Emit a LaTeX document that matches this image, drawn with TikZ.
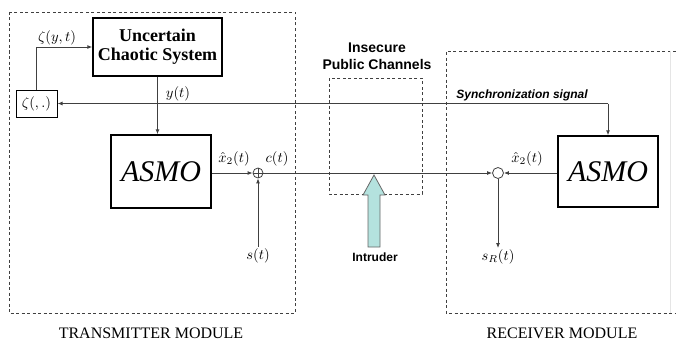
\documentclass[tikz,border=0pt]{standalone}
\usepackage{graphicx}
\usepackage{fontspec}
\setmainfont{Liberation Serif}
\newfontfamily\chansf{Liberation Sans}
\usetikzlibrary{arrows.meta}
\definecolor{intrudercol}{HTML}{B4E2DE}
\definecolor{wirecol}{HTML}{404040}
\newcommand{\siglbl}[1]{\scalebox{1.45}{$#1$}}
\tikzset{
    block/.style={draw, line width=1.4pt, minimum width=#1, inner sep=2pt},
    block/.default=100pt,
    module/.style={dashed, line width=0.9pt, dash pattern=on 3pt off 2.5pt, wirecol},
    wire/.style={wirecol, line width=0.9pt},
    sig/.style={inner sep=1.5pt},
    sumnode/.style={circle, draw=wirecol, line width=0.8pt, minimum size=10pt, inner sep=0pt}
}
\begin{document}
\begin{tikzpicture}[x=1pt,y=-1pt,>={Latex[length=5pt,width=4pt]}]
    \useasboundingbox (0,0) rectangle (676,345);
    % modules
    \draw[module] (9,12) rectangle (295,313);
    \draw[module] (676,51) -- (446,51) -- (446,313) -- (676,313);
    \draw[gray!20, line width=0.6pt] (670,51) -- (670,313);
    \draw[module] (329,78) rectangle (422,194);
    % blocks
    \node[block=129pt, minimum height=58pt, align=center, font=\fontsize{18}{19}\selectfont\bfseries]
        (ucs) at (157.5,47) {Uncertain\\Chaotic System};
    \node[block=41pt, minimum height=27pt, line width=1pt, sig] (zeta) at (36.5,103.5) {\siglbl{\zeta(,.)}};
    \node[block=100pt, minimum height=73pt, font=\fontsize{30}{30}\selectfont\itshape] (asmoT) at (161,171.5) {ASMO};
    \node[block=100pt, minimum height=71pt, font=\fontsize{30}{30}\selectfont\itshape] (asmoR) at (608,171.5) {ASMO};
    \node[sumnode] (sumT) at (258,173) {};
    \draw[wirecol, line width=0.8pt] (sumT.north) -- (sumT.south) (sumT.west) -- (sumT.east);
    \node[sumnode, minimum size=11pt] (sumR) at (498,173) {};
    % signals
    \node[sig] (sT) at (258,256) {\siglbl{s(t)}};
    \node[sig] (sR) at (498,257) {\siglbl{s_R(t)}};
    \coordinate (sync) at (asmoR.north |- zeta.east);
    \coordinate (zup) at (zeta.north |- ucs.west);
    \draw[wire,->] (zeta.north) -- (zup) -- (ucs.west);
    \draw[wire,->] (ucs.south) -- (ucs.south |- asmoT.north);
    \draw[wire,->] (sync) -- (zeta.east);
    \draw[wire,->] (sync) -- (asmoR.north);
    \draw[wire,->] (asmoT.east |- sumT.west) -- (sumT.west);
    \draw[wire,->] (sT.north) -- (sumT.south);
    \draw[wire,->] (sumT.east) -- (sumR.west);
    \draw[wire,->] (asmoR.west |- sumR.east) -- (sumR.east);
    \draw[wire,->] (sumR.south) -- (sR.north);
    % labels
    \node[sig] (lzy) at (57,38) {\siglbl{\zeta(y,t)}};
    \node[sig] (lyt) at (178,94) {\siglbl{y(t)}};
    \node[sig] (lxT) at (234,159) {\siglbl{\hat{x}_2(t)}};
    \node[sig] (lct) at (277,159) {\siglbl{c(t)}};
    \node[sig] (lxR) at (527,159) {\siglbl{\hat{x}_2(t)}};
    \node[font=\chansf\fontsize{12}{12}\selectfont\bfseries\itshape] (lsync) at (522,95) {Synchronization signal};
    \node[font=\chansf\fontsize{14}{17}\selectfont\bfseries, align=center] (lchan) at (377,56) {Insecure\\Public Channels};
    % intruder
    \draw[gray!80!black, fill=intrudercol, line width=0.8pt]
        (368,247) -- (380,247) -- (380,195) -- (385,195) -- (374,175) -- (363,195) -- (368,195) -- cycle;
    \node[font=\chansf\fontsize{12}{12}\selectfont\bfseries] (lint) at (375,257) {Intruder};
    % module names
    \node[font=\fontsize{16}{16}\selectfont] (ltx) at (151,333) {TRANSMITTER MODULE};
    \node[font=\fontsize{16}{16}\selectfont] (lrx) at (562,333) {RECEIVER MODULE};
\end{tikzpicture}
\end{document}
